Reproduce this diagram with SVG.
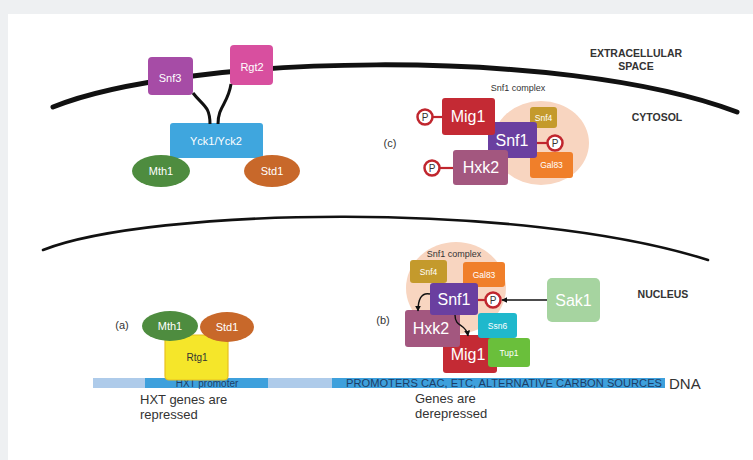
<svg xmlns="http://www.w3.org/2000/svg" width="753" height="460" viewBox="0 0 753 460">
<defs>
<style>
.t{font-family:"Liberation Sans",Arial,sans-serif;fill:#fff;text-anchor:middle}
.big{font-size:16px}
.mid{font-size:11px}
.sm{font-size:8.5px}
.lbl{font-family:"Liberation Sans",Arial,sans-serif;font-weight:bold;font-size:10.5px;fill:#333;text-anchor:middle}
.dk{font-family:"Liberation Sans",Arial,sans-serif;fill:#333}
.pc{fill:#fff;stroke:#c0262e;stroke-width:2.5}
.pl{stroke:#c0262e;stroke-width:2.2}
.pt{font-family:"Liberation Sans",Arial,sans-serif;font-size:10px;fill:#333;text-anchor:middle}
.conn{fill:none;stroke:#111;stroke-width:1.4}
</style>
<marker id="ah" viewBox="0 0 10 10" refX="9" refY="5" markerWidth="6" markerHeight="6" orient="auto-start-reverse" markerUnits="userSpaceOnUse">
<path d="M0,0 L10,5 L0,10 z" fill="#111"/>
</marker>
</defs>
<rect x="0" y="0" width="753" height="460" fill="#eef0f2"/>
<rect x="8" y="14" width="745" height="446" fill="#fff"/>

<!-- membranes -->
<path d="M53,107 C180,55 560,45 737,112" fill="none" stroke="#111" stroke-width="5" stroke-linecap="round"/>
<path d="M43,250 C150,208 520,200 708,260" fill="none" stroke="#111" stroke-width="2.6" stroke-linecap="round"/>

<!-- region labels -->
<text class="lbl" x="636" y="57">EXTRACELLULAR</text>
<text class="lbl" x="636" y="70">SPACE</text>
<text class="lbl" x="657" y="121">CYTOSOL</text>
<text class="lbl" x="663" y="298">NUCLEUS</text>

<!-- top signalling -->
<g id="snf3"><rect x="148" y="57" width="45" height="38" rx="4" fill="#a64ca6"/><text class="t mid" x="170" y="82">Snf3</text></g>
<g id="rgt2"><rect x="230" y="45" width="43" height="40" rx="4" fill="#d84f9f"/><text class="t mid" x="252" y="71">Rgt2</text></g>
<g id="yck"><rect x="170" y="123" width="93" height="35" rx="3" fill="#3fa6de"/><text class="t mid" x="216" y="145">Yck1/Yck2</text></g>
<g id="mth1-top"><ellipse cx="161" cy="171" rx="29" ry="16" fill="#4e8c3f"/><text class="t mid" x="161" y="175">Mth1</text></g>
<g id="std1-top"><ellipse cx="272" cy="171" rx="28" ry="16" fill="#c8682a"/><text class="t mid" x="272" y="175">Std1</text></g>

<!-- (c) cytosol Snf1 complex -->
<text class="dk" x="518" y="91" font-size="9" text-anchor="middle">Snf1 complex</text>
<text class="dk" x="390" y="147" font-size="11" text-anchor="middle">(c)</text>
<g id="c-complex"><ellipse cx="541" cy="143" rx="48" ry="42" fill="#f8d5c0"/></g>
<g id="c-snf4"><rect x="530" y="107" width="27" height="21" rx="3" fill="#c49a2c"/><text class="t sm" x="543.5" y="121">Snf4</text></g>
<g id="c-gal83"><rect x="530" y="152" width="43" height="26" rx="3" fill="#f07f2a"/><text class="t sm" x="551.5" y="168">Gal83</text></g>
<g id="c-snf1"><rect x="488" y="122" width="49" height="36" rx="3" fill="#6a3fa0"/><text class="t big" x="512" y="146">Snf1</text>
<line class="pl" x1="537" y1="143" x2="548" y2="143"/><circle class="pc" cx="555" cy="143" r="7.5"/><text class="pt" x="555" y="146.5">P</text></g>
<g id="c-mig1"><rect x="442" y="98" width="53" height="37" rx="3" fill="#c42a34"/><text class="t big" x="468" y="122">Mig1</text>
<line class="pl" x1="432" y1="117" x2="442" y2="117"/><circle class="pc" cx="425" cy="117" r="7.5"/><text class="pt" x="425" y="120.5">P</text></g>
<g id="c-hxk2"><rect x="453" y="150" width="55" height="35" rx="3" fill="#a3577f"/><text class="t big" x="481" y="173">Hxk2</text>
<line class="pl" x1="439" y1="168" x2="453" y2="168"/><circle class="pc" cx="432" cy="168" r="7.5"/><text class="pt" x="432" y="171.5">P</text></g>

<!-- (a) nucleus repressed -->
<text class="dk" x="122" y="329" font-size="11" text-anchor="middle">(a)</text>
<g id="dna"><rect x="93" y="378" width="572" height="10" fill="#aecbea"/>
<rect x="145" y="378" width="123" height="10" fill="#3ea0dc"/>
<rect x="332" y="378" width="333" height="10" fill="#3ea0dc"/>
<text x="207" y="387" font-family="Liberation Sans,Arial,sans-serif" font-size="10" fill="#1d3d66" text-anchor="middle">HXT promoter</text>
<text x="346" y="387" font-family="Liberation Sans,Arial,sans-serif" font-size="10" fill="#1d3d66" textLength="316" lengthAdjust="spacingAndGlyphs">PROMOTERS CAC, ETC, ALTERNATIVE CARBON SOURCES</text>
<text class="dk" x="669" y="389" font-size="15">DNA</text></g>
<g id="rtg1"><rect x="165" y="335" width="63" height="45" rx="4" fill="#f5e62a" stroke="#e8c020" stroke-width="1.2"/><text x="197" y="361" font-family="Liberation Sans,Arial,sans-serif" font-size="10" fill="#333" text-anchor="middle">Rtg1</text></g>
<g id="mth1-nuc"><ellipse cx="170" cy="326" rx="28" ry="15" fill="#4e8c3f"/><text class="t mid" x="170" y="330">Mth1</text></g>
<g id="std1-nuc"><ellipse cx="227" cy="327" rx="27" ry="15" fill="#c8682a"/><text class="t mid" x="227" y="331">Std1</text></g>
<text class="dk" x="140" y="404" font-size="13">HXT genes are</text>
<text class="dk" x="140" y="419" font-size="13">repressed</text>

<!-- (b) nucleus derepressed -->
<text class="dk" x="383" y="324" font-size="11" text-anchor="middle">(b)</text>
<g id="b-complex"><ellipse cx="456" cy="288" rx="50" ry="46" fill="#f8d5c0"/></g>
<text class="dk" x="454" y="257" font-size="9" text-anchor="middle">Snf1 complex</text>
<g id="b-snf4"><rect x="410" y="260" width="37" height="23" rx="3" fill="#c49a2c"/><text class="t sm" x="428.5" y="275">Snf4</text></g>
<g id="b-gal83"><rect x="463" y="262" width="42" height="25" rx="3" fill="#f07f2a"/><text class="t sm" x="484" y="278">Gal83</text></g>
<g id="b-mig1"><rect x="443" y="335" width="54" height="38" rx="3" fill="#c42a34"/><text class="t big" x="468" y="360">Mig1</text></g>
<g id="b-hxk2"><rect x="405" y="310" width="55" height="37" rx="3" fill="#a3577f"/><text class="t big" x="431" y="334">Hxk2</text></g>
<g id="b-snf1"><rect x="430" y="283" width="48" height="32" rx="3" fill="#6a3fa0"/><text class="t big" x="454" y="305">Snf1</text>
<line class="pl" x1="478" y1="300" x2="486" y2="300"/><circle class="pc" cx="493" cy="300" r="7.5"/><text class="pt" x="493" y="303.5">P</text></g>
<g id="b-ssn6"><rect x="478" y="313" width="39" height="25" rx="3" fill="#1fb8cc"/><text class="t sm" x="497.5" y="329">Ssn6</text></g>
<g id="b-tup1"><rect x="488" y="338" width="42" height="29" rx="3" fill="#6abf3b"/><text class="t sm" x="509" y="356">Tup1</text></g>
<g id="sak1"><rect x="547" y="278" width="53" height="44" rx="5" fill="#a6d4a0"/><text class="t big" x="573.5" y="306">Sak1</text></g>
<text class="dk" x="415" y="403" font-size="13">Genes are</text>
<text class="dk" x="415" y="418" font-size="13">derepressed</text>

<!-- connectors -->
<g id="connectors">
<path d="M193,93 C203,106 210,106 210,124" fill="none" stroke="#111" stroke-width="3"/>
<path d="M231,84 C228,104 218,106 218,124" fill="none" stroke="#111" stroke-width="3"/>
<path class="conn" d="M430,294 C421,292 418,300 418,311" marker-end="url(#ah)"/>
<path class="conn" d="M455,315 C455,328 466,323 468,336" marker-end="url(#ah)"/>
<path class="conn" d="M547,300 L502,300" marker-end="url(#ah)"/>
</g>
</svg>
